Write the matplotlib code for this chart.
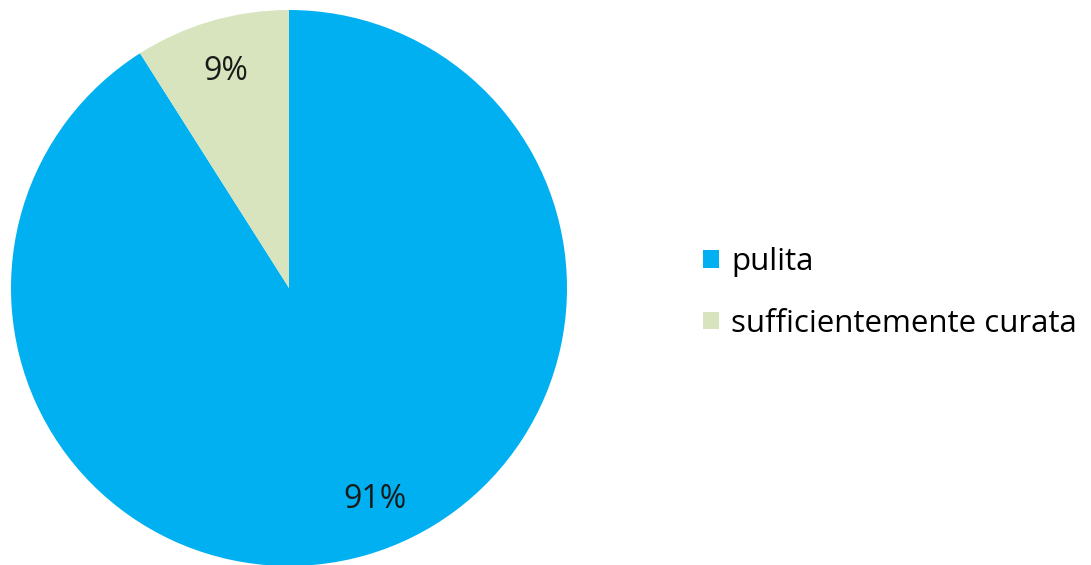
import numpy as np
import matplotlib.pyplot as plt
from matplotlib.patches import Patch

labels = ['pulita', 'sufficientemente curata']
values = [91, 9]
colors = ['#00B0F0', '#D7E4BD']

plt.rcParams['font.family'] = ['Open Sans', 'DejaVu Sans']

fig = plt.figure(figsize=(10.91, 5.65), dpi=100)
ax = fig.add_axes([11 / 1091, -1 / 565, 556 / 1091, 556 / 565])

wedges, texts, autotexts = ax.pie(values, colors=colors, startangle=90, counterclock=False,
                                  radius=1, autopct='%1.0f%%', pctdistance=0.81,
                                  textprops={'fontsize': 23, 'color': '#1a1a1a'})

# big slice label sits a bit further round, toward the right
w = wedges[0]
ang = np.deg2rad((w.theta1 + w.theta2) / 2 + 6)
autotexts[0].set_position((0.82 * np.cos(ang), 0.82 * np.sin(ang)))

ax.set_xlim(-1, 1)
ax.set_ylim(-1, 1)
ax.set_aspect('equal')
ax.axis('off')

handles = [Patch(facecolor=c, edgecolor='none') for c in colors]
fig.legend(handles, labels, loc='center left', bbox_to_anchor=(703 / 1091, 1 - 293 / 565),
           frameon=False, fontsize=22.5, handlelength=0.5, handleheight=0.5,
           handletextpad=0.4, labelspacing=1.0, borderaxespad=0, borderpad=0)

fig.savefig('out.png', dpi=100)
